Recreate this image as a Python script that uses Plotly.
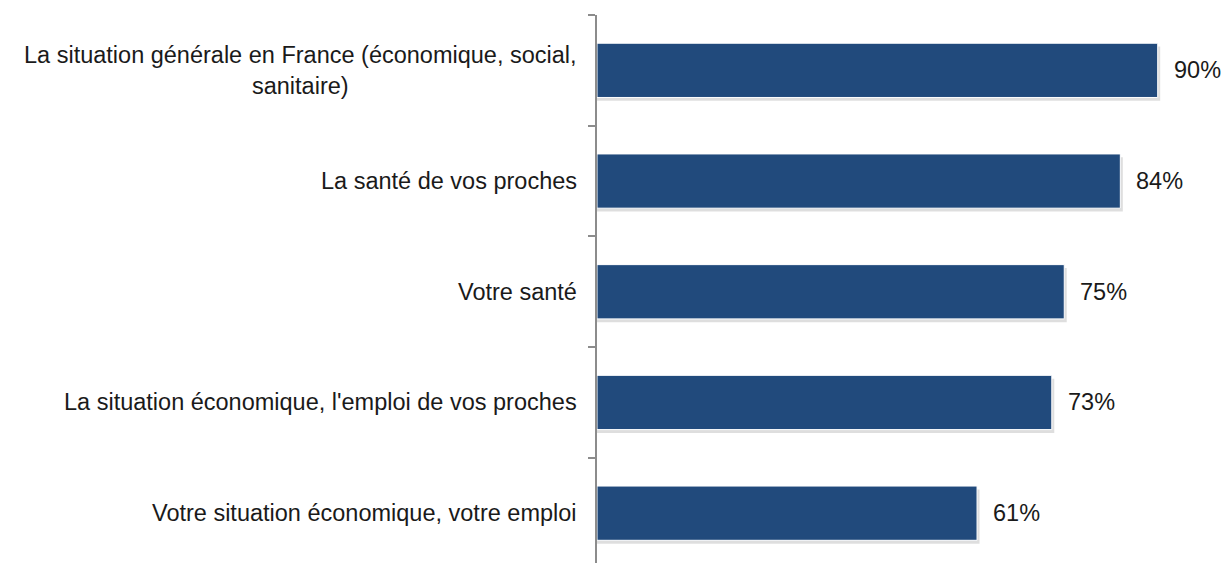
import plotly.graph_objects as go

# Données du graphique
categories = [
    "La situation générale en France (économique, social,<br>sanitaire)",
    "La santé de vos proches",
    "Votre santé",
    "La situation économique, l'emploi de vos proches",
    "Votre situation économique, votre emploi",
]
valeurs = [90, 84, 75, 73, 61]
etiquettes = ["90%", "84%", "75%", "73%", "61%"]

bleu = "#214A7C"
police = "Liberation Sans, Arial, sans-serif"
taille = 23.5

fig = go.Figure()

# ombre légère sous les barres
fig.add_trace(go.Bar(
    y=categories, x=[v + 0.4 for v in valeurs], orientation="h",
    marker=dict(color="rgba(0,0,0,0.13)", line=dict(width=0)),
    width=0.49, offset=-0.215, hoverinfo="skip", showlegend=False,
))
fig.add_trace(go.Bar(
    y=categories, x=valeurs, orientation="h",
    marker=dict(color=bleu, line=dict(color="white", width=1)),
    width=0.49, offset=-0.245, showlegend=False,
))

# étiquettes des valeurs
for c, v, t in zip(categories, valeurs, etiquettes):
    fig.add_annotation(x=v, y=c, text=t, showarrow=False, xanchor="left",
                       xshift=14, font=dict(size=taille, color="#1a1a1a", family=police))

# libellés des catégories (centrés pour la ligne double)
for c in categories:
    fig.add_annotation(x=0, y=c, text=c, showarrow=False, xanchor="right",
                       align="center", xshift=-18,
                       font=dict(size=taille, color="#1a1a1a", family=police))

fig.update_layout(
    width=1225, height=563,
    margin=dict(l=597, r=0, t=15, b=0),
    paper_bgcolor="white", plot_bgcolor="white",
    barmode="overlay",
    font=dict(family=police, size=taille, color="#1a1a1a"),
)
fig.update_xaxes(range=[0, 100.8], showgrid=False, zeroline=False,
                 showticklabels=False, showline=False, ticks="")
fig.update_yaxes(range=[4.45, -0.5], showgrid=False, zeroline=False,
                 showticklabels=False, showline=True, linecolor="#8c8c8c",
                 linewidth=1.5, ticks="outside", tickson="boundaries",
                 ticklen=7, tickcolor="#8c8c8c", tickwidth=1.5)

# pas de marge autour de la page, pas de barre d'outils
fig.write_html("out.html", config={"displayModeBar": False},
               post_script="document.body.style.margin='0';")
